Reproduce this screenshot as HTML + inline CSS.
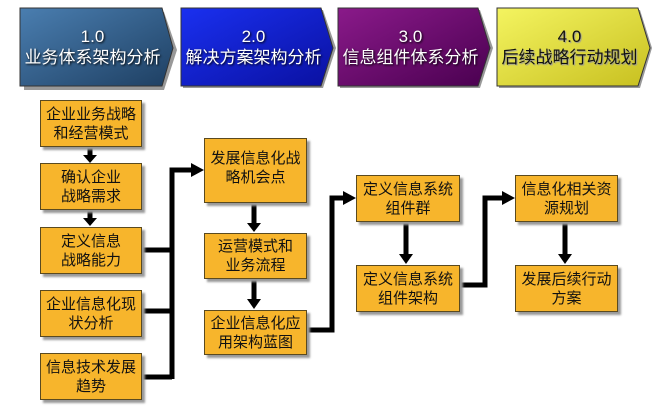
<!DOCTYPE html>
<html><head><meta charset="utf-8"><style>
body{margin:0;width:666px;height:418px;background:#fff;overflow:hidden;font-family:"Liberation Sans","Noto Sans CJK SC",sans-serif}
.b{position:absolute;background:#f7b52c;border:1px solid #5a4a20;box-shadow:3px 3px 2px #999;display:flex;align-items:center;justify-content:center;text-align:center;font-size:15px;line-height:19px;color:#111}
.h{position:absolute;color:#fff;font-size:17px;line-height:21px;text-align:center;text-shadow:1px 1px 2px #000}
</style></head><body>
<svg width="666" height="418" style="position:absolute;left:0;top:0">
<defs>
<linearGradient id="g1" x1="0" y1="0" x2="1" y2="1"><stop offset="0" stop-color="#4a7eb0"/><stop offset="1" stop-color="#1e3f62"/></linearGradient>
<linearGradient id="g2" x1="0" y1="0" x2="1" y2="1"><stop offset="0" stop-color="#1a30f0"/><stop offset="1" stop-color="#0a10a0"/></linearGradient>
<linearGradient id="g3" x1="0" y1="0" x2="1" y2="1"><stop offset="0" stop-color="#8a1a8a"/><stop offset="1" stop-color="#4a0050"/></linearGradient>
<linearGradient id="g4" x1="0" y1="0" x2="1" y2="1"><stop offset="0" stop-color="#f4f460"/><stop offset="1" stop-color="#c8c020"/></linearGradient>
</defs>
<g stroke="#333" stroke-width="1">
<polygon points="22,10 162,10 175,48 162,88 22,88" fill="#999" stroke="none" transform="translate(2,2)"/>
<polygon points="20,8 162,8 173,48 162,86 20,86" fill="url(#g1)"/>
<polygon points="183,10 323,10 336,48 323,88 183,88" fill="#999" stroke="none"/>
<polygon points="181,8 321,8 333,48 321,86 181,86" fill="url(#g2)"/>
<polygon points="340,10 480,10 493,48 480,88 340,88" fill="#999" stroke="none"/>
<polygon points="338,8 478,8 490,48 478,86 338,86" fill="url(#g3)"/>
<polygon points="499,10 640,10 652,48 640,88 499,88" fill="#999" stroke="none"/>
<polygon points="497,8 638,8 650,48 638,86 497,86" fill="url(#g4)"/>
</g>
<g stroke="#000" stroke-width="5" fill="none">
<line x1="90" y1="146" x2="90" y2="156"/>
<line x1="90" y1="209" x2="90" y2="219"/>
<line x1="141" y1="250" x2="172" y2="250"/>
<line x1="141" y1="311" x2="172" y2="311"/>
<line x1="141" y1="377" x2="172" y2="377"/>
<polyline points="172,379 172,170 192,170"/>
<line x1="254" y1="202" x2="254" y2="224"/>
<line x1="254" y1="278" x2="254" y2="300"/>
<polyline points="306,330 332,330 332,198 344,198"/>
<line x1="406" y1="221" x2="406" y2="255"/>
<polyline points="459,285 485,285 485,198 503,198"/>
<line x1="565" y1="221" x2="565" y2="255"/>
</g>
<g fill="#000">
<polygon points="83,155 97,155 90,163"/>
<polygon points="83,218 97,218 90,226"/>
<polygon points="191,163 204,170 191,177"/>
<polygon points="247,223 261,223 254,232"/>
<polygon points="247,299 261,299 254,309"/>
<polygon points="343,191 356,198 343,205"/>
<polygon points="399,254 413,254 406,264"/>
<polygon points="502,191 515,198 502,205"/>
<polygon points="558,254 572,254 565,264"/>
</g>
</svg>
<div class="h" style="left:20px;top:26px;width:145px">1.0<br>业务体系架构分析</div>
<div class="h" style="left:181px;top:26px;width:145px">2.0<br>解决方案架构分析</div>
<div class="h" style="left:338px;top:26px;width:145px">3.0<br>信息组件体系分析</div>
<div class="h" style="left:497px;top:26px;width:145px;color:#111;text-shadow:1px 1px 1px #999">4.0<br>后续战略行动规划</div>
<div class="b" style="left:40px;top:100px;width:100px;height:45px">企业业务战略<br>和经营模式</div>
<div class="b" style="left:40px;top:163px;width:100px;height:45px">确认企业<br>战略需求</div>
<div class="b" style="left:40px;top:227px;width:100px;height:45px">定义信息<br>战略能力</div>
<div class="b" style="left:40px;top:290px;width:100px;height:45px">企业信息化现<br>状分析</div>
<div class="b" style="left:40px;top:353px;width:100px;height:45px">信息技术发展<br>趋势</div>
<div class="b" style="left:204px;top:138px;width:101px;height:63px;align-items:flex-start;padding-top:0"><div style="margin-top:10px">发展信息化战<br>略机会点</div></div>
<div class="b" style="left:204px;top:233px;width:101px;height:44px">运营模式和<br>业务流程</div>
<div class="b" style="left:204px;top:310px;width:101px;height:43px">企业信息化应<br>用架构蓝图</div>
<div class="b" style="left:356px;top:175px;width:102px;height:45px">定义信息系统<br>组件群</div>
<div class="b" style="left:356px;top:265px;width:102px;height:45px">定义信息系统<br>组件架构</div>
<div class="b" style="left:515px;top:175px;width:101px;height:45px">信息化相关资<br>源规划</div>
<div class="b" style="left:515px;top:265px;width:101px;height:45px">发展后续行动<br>方案</div>
</body></html>
